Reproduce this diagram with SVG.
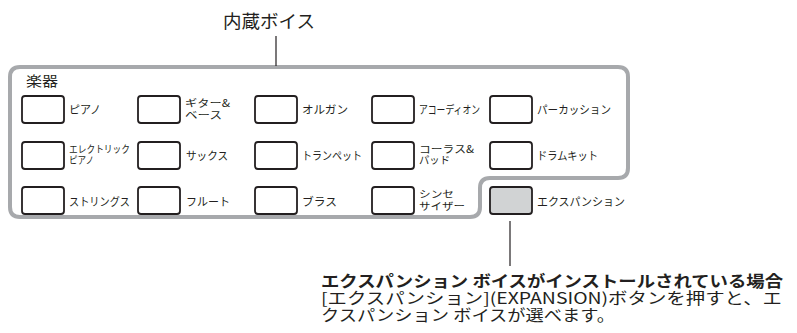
<svg xmlns="http://www.w3.org/2000/svg" width="797" height="333" viewBox="0 0 797 333">
<style>
text{font-family:"Noto Sans CJK JP","Noto Sans",sans-serif;fill:#231f20;}
.lb{font-size:11.5px;}
.l2{font-size:10px;}
.btn{fill:#fff;stroke:#231f20;stroke-width:1.8;}
.exp{fill:#d1d3d4;}
.ln{stroke:#231f20;stroke-width:1.2;fill:none;}
</style>
<rect width="797" height="333" fill="#fff"/>
<g id="panel">
<path d="M20,67 H618 Q628,67 628,77 V168 Q628,178 618,178 H490 Q480,178 480,188 V207 Q480,217 470,217 H20 Q10,217 10,207 V77 Q10,67 20,67 Z" fill="none" stroke="#a7a9ac" stroke-width="4"/>
<text x="26" y="86" font-size="14" textLength="32" lengthAdjust="spacingAndGlyphs">楽器</text>
</g>
<g id="title"><text x="223" y="28" font-size="18" textLength="92" lengthAdjust="spacingAndGlyphs">内蔵ボイス</text></g>
<g id="connectors">
<line class="ln" x1="276" y1="36" x2="276" y2="66"/>
<line class="ln" x1="510" y1="221" x2="510" y2="266"/>
</g>
<g id="piano"><rect class="btn" x="22" y="96" width="42" height="27" rx="3"/><text class="lb" x="69" y="114" textLength="32" lengthAdjust="spacingAndGlyphs">ピアノ</text></g>
<g id="guitar"><rect class="btn" x="138" y="96" width="42" height="27" rx="3"/><text class="lb l2" x="185" y="107" textLength="45" lengthAdjust="spacingAndGlyphs">ギター&amp;</text><text class="lb l2" x="185" y="118.5" textLength="37" lengthAdjust="spacingAndGlyphs">ベース</text></g>
<g id="organ"><rect class="btn" x="255" y="96" width="42" height="27" rx="3"/><text class="lb" x="302" y="114" textLength="46" lengthAdjust="spacingAndGlyphs">オルガン</text></g>
<g id="accordion"><rect class="btn" x="372" y="96" width="42" height="27" rx="3"/><text class="lb" x="419" y="114" textLength="61" lengthAdjust="spacingAndGlyphs">アコーディオン</text></g>
<g id="percussion"><rect class="btn" x="490" y="96" width="42" height="27" rx="3"/><text class="lb" x="537" y="114" textLength="74" lengthAdjust="spacingAndGlyphs">パーカッション</text></g>
<g id="epiano"><rect class="btn" x="22" y="142" width="42" height="27" rx="3"/><text class="lb l2" x="69" y="152.5" textLength="61" lengthAdjust="spacingAndGlyphs">エレクトリック</text><text class="lb l2" x="69" y="164" textLength="25" lengthAdjust="spacingAndGlyphs">ピアノ</text></g>
<g id="sax"><rect class="btn" x="138" y="142" width="42" height="27" rx="3"/><text class="lb" x="186" y="160" textLength="42" lengthAdjust="spacingAndGlyphs">サックス</text></g>
<g id="trumpet"><rect class="btn" x="255" y="142" width="42" height="27" rx="3"/><text class="lb" x="302" y="160" textLength="60" lengthAdjust="spacingAndGlyphs">トランペット</text></g>
<g id="choir"><rect class="btn" x="372" y="142" width="42" height="27" rx="3"/><text class="lb l2" x="419" y="152.5" textLength="55" lengthAdjust="spacingAndGlyphs">コーラス&amp;</text><text class="lb l2" x="419" y="164" textLength="31" lengthAdjust="spacingAndGlyphs">パッド</text></g>
<g id="drum"><rect class="btn" x="490" y="142" width="42" height="27" rx="3"/><text class="lb" x="537" y="160" textLength="61" lengthAdjust="spacingAndGlyphs">ドラムキット</text></g>
<g id="strings"><rect class="btn" x="22" y="187" width="42" height="27" rx="3"/><text class="lb" x="69" y="206" textLength="61" lengthAdjust="spacingAndGlyphs">ストリングス</text></g>
<g id="flute"><rect class="btn" x="138" y="187" width="42" height="27" rx="3"/><text class="lb" x="186" y="206" textLength="44" lengthAdjust="spacingAndGlyphs">フルート</text></g>
<g id="brass"><rect class="btn" x="255" y="187" width="42" height="27" rx="3"/><text class="lb" x="302" y="206" textLength="35" lengthAdjust="spacingAndGlyphs">ブラス</text></g>
<g id="synth"><rect class="btn" x="372" y="187" width="42" height="27" rx="3"/><text class="lb l2" x="419" y="198" textLength="35" lengthAdjust="spacingAndGlyphs">シンセ</text><text class="lb l2" x="419" y="210" textLength="46" lengthAdjust="spacingAndGlyphs">サイザー</text></g>
<g id="expansion"><rect class="btn exp" x="490" y="187" width="42" height="27" rx="3"/><text class="lb" x="537" y="206" textLength="88" lengthAdjust="spacingAndGlyphs">エクスパンション</text></g>
<g id="note">
<text x="321" y="287" font-size="16" font-weight="bold" textLength="462" lengthAdjust="spacingAndGlyphs">エクスパンション ボイスがインストールされている場合</text>
<text x="321" y="304" font-size="15.5" textLength="461" lengthAdjust="spacingAndGlyphs">[エクスパンション](EXPANSION)ボタンを押すと、エ</text>
<text x="321" y="321" font-size="15.5" textLength="294" lengthAdjust="spacingAndGlyphs">クスパンション ボイスが選べます。</text>
</g>
</svg>
